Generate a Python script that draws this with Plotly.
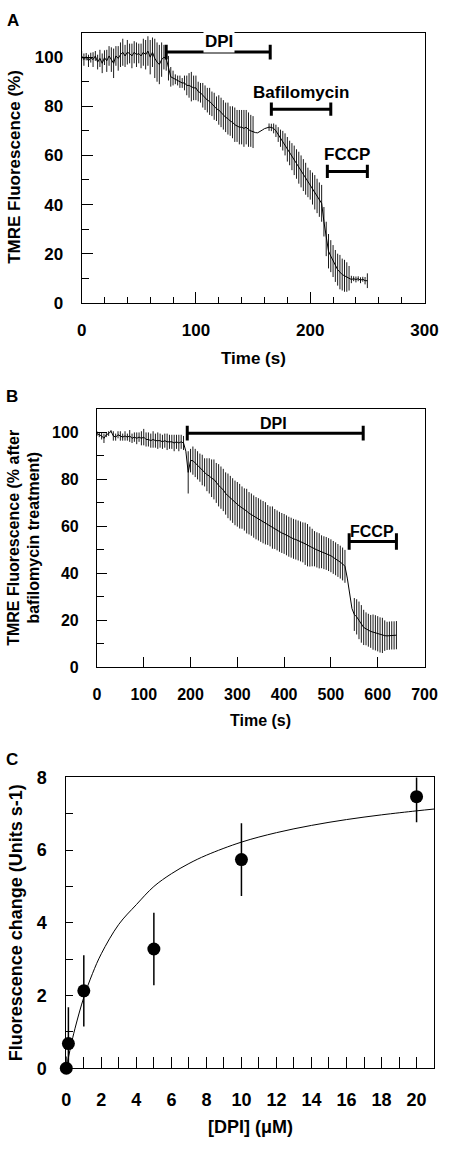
import plotly.graph_objects as go

# ---------------- Panel A data ----------------
a_time = list(range(0, 252, 2))
a_mean = [
    100.5, 99.0, 100.2, 98.5, 99.8, 99.0, 100.5, 98.0, 99.5, 97.5,
    99.8, 98.5, 100.5, 99.0, 97.5, 100.5, 99.5, 101.0, 102.0, 100.5,
    102.0, 101.5, 100.5, 102.0, 101.0, 101.5, 100.5, 102.0, 101.0, 102.5,
    100.0, 102.0, 99.5, 98.0, 97.0, 99.0, 100.0, 99.5, 95.5, 92.0,
    91.5, 91.0, 90.5, 90.0, 89.5, 89.5, 88.5, 88.5, 88.0, 87.5,
    87.5, 86.0, 85.5, 84.5, 83.5, 82.5, 82.0, 81.0, 80.0, 79.0,
    78.5, 77.5, 76.5, 75.5, 75.0, 74.0, 73.5, 72.5, 72.0, 71.5,
    71.5, 71.0, 71.5, 70.5, 70.0, 69.5, 69.3, 69.2, 69.6, 70.3,
    70.9, 71.3, 71.5, 71.4, 71.0, 70.0, 68.5, 67.0, 66.0, 64.5,
    62.5, 61.0, 59.5, 58.0, 56.5, 55.0, 53.5, 52.0, 50.5, 49.0,
    48.0, 46.5, 45.0, 43.5, 42.0, 40.5, 33.0, 26.0, 21.0, 19.0,
    17.0, 15.0, 13.5, 12.5, 11.5, 11.0, 10.5, 10.0, 9.5, 9.8,
    9.5, 9.8, 9.2, 9.6, 9.0, 9.0,
]
a_err = [
    2, 2.5, 1.5, 2.5, 2, 3, 2, 3, 3.5, 4,
    3, 4.5, 4, 5, 6, 4, 5, 5, 5.5, 4.5,
    5, 4, 5, 4.5, 5, 4, 5, 5.5, 6, 6,
    7, 6, 8, 8, 8, 7, 5, 5, 5, 4,
    3, 2, 2, 2.5, 2, 3, 4, 5, 6, 5,
    5, 4, 4, 5, 5, 5, 5.5, 5, 5.5, 5,
    6, 6, 6, 6, 6.5, 6, 6.5, 7, 6.5, 7,
    7, 7.5, 7, 7, 6.5, 6.5, 0, 0, 0, 0,
    0, 0, 1.5, 1.5, 2, 2.5, 3, 3.5, 4, 4.5,
    5, 5, 5.5, 6, 6, 6.5, 6.5, 6.5, 6.5, 6,
    6, 6.5, 7, 7, 7, 7.5, 6, 7, 7, 6.5,
    6.5, 6.5, 6.5, 7, 6.5, 6.5, 6, 5, 1.5, 1,
    1.2, 1, 1.2, 1, 1.5, 3,
]
a_treat_names = ["DPI", "Bafilomycin", "FCCP"]
a_treat_start = [74, 166, 215]
a_treat_end = [165, 218, 250]
a_treat_level = [102.1, 78.8, 53.5]
a_treat_cap = [3.0, 2.7, 2.7]
a_label_x = [120, 192, 232]
a_label_y = [106.3, 85.5, 60.5]

# ---------------- Panel B data ----------------
b_time = list(range(0, 645, 5))
b_mean = [
    99.5, 99.0, 98.5, 97.5, 99.0, 99.5, 100.5, 98.5, 98.0, 99.0,
    98.5, 98.0, 98.5, 98.0, 98.5, 97.5, 98.0, 97.5, 98.0, 97.5,
    98.0, 97.0, 97.0, 96.5, 97.0, 96.5, 96.5, 96.5, 96.0, 96.5,
    96.0, 96.0, 96.0, 95.5, 96.0, 95.5, 96.0, 95.5, 92.0, 83.0,
    88.0, 88.0, 87.0, 86.0, 85.0, 84.0, 83.0, 82.0, 81.5, 80.5,
    80.0, 78.5, 77.5, 76.5, 75.5, 74.0, 73.0, 72.0, 71.0, 70.0,
    69.4, 68.6, 68.0, 67.2, 66.5, 65.6, 65.0, 64.2, 63.5, 63.0,
    62.4, 61.8, 61.3, 60.6, 60.0, 59.5, 58.9, 58.3, 57.7, 57.2,
    56.8, 56.2, 55.6, 55.2, 54.7, 54.4, 54.0, 53.6, 53.2, 52.6,
    52.0, 51.4, 51.0, 50.5, 50.0, 49.6, 49.2, 48.8, 48.5, 48.0,
    47.5, 46.8, 46.2, 45.5, 44.8, 44.0, 43.0, 38.0, 31.0, 25.0,
    22.5, 21.5, 20.0, 18.5, 17.0, 16.4, 15.8, 15.3, 15.0, 14.7,
    14.3, 13.8, 13.6, 13.5, 13.4, 13.5, 13.6, 13.6, 13.7,
]
b_err = [
    1, 1, 1.5, 2, 1, 1, 0.5, 2, 1.5, 1.5,
    2, 1.5, 2, 1.5, 2.5, 2, 2, 2.5, 2, 3,
    3.5, 3, 3, 3, 3.5, 3, 3.5, 3, 3, 3,
    3.5, 3, 3, 3.5, 3, 3.5, 3, 3, 0, 9,
    5, 6, 6, 6, 6, 6.5, 6, 7, 7.5, 8,
    8.5, 8.5, 9, 9, 9, 9, 9.5, 9.5, 9.5, 9.5,
    9.5, 9.5, 9, 9, 9.5, 9, 9, 9, 9, 9,
    9, 9, 9, 8.5, 8.5, 9, 8.5, 8.5, 8.5, 8.5,
    8.5, 8.5, 8.5, 8.5, 8.5, 8.5, 8.5, 8.5, 8.5, 9,
    9, 8.5, 8, 7.5, 7.5, 7.5, 7, 7, 7, 7,
    7, 7, 7, 7, 7, 7, 7, 0, 0, 0,
    7, 7.5, 8, 8, 7.5, 7, 7, 7, 7.5, 7.5,
    7.5, 7.5, 7.5, 6.5, 6, 6, 6, 6, 6,
]
b_treat_names = ["DPI", "FCCP"]
b_treat_start = [193, 539]
b_treat_end = [569, 640]
b_treat_level = [99.7, 53.6]
b_treat_cap = [3.1, 3.5]
b_label_x = [377, 588]
b_label_y = [103.8, 57.9]

# ---------------- Panel C data ----------------
c_dpi = [0, 0.12, 1, 5, 10, 20]
c_rate = [0.0, 0.68, 2.13, 3.28, 5.74, 7.47]
c_err = [0.32, 1.0, 0.98, 1.0, 1.0, 0.7]
c_fit_x = [0, 0.25, 0.5, 1, 1.5, 2, 3, 4, 5, 6, 7, 8, 10, 12, 14, 16, 18, 20, 21]
c_fit_y = [0, 0.59, 1.10, 1.95, 2.61, 3.15, 3.96, 4.50, 5.0, 5.35, 5.63, 5.86,
           6.22, 6.48, 6.68, 6.84, 6.97, 7.08, 7.13]

FONT = "Liberation Sans, Arial, sans-serif"
W, H = 450, 1149


def f(size):
    return dict(family=FONT, size=size, color="black", weight="bold")


fig = go.Figure()

# Panel A series
fig.add_trace(go.Scatter(
    x=a_time, y=a_mean, mode="lines", line=dict(color="black", width=1),
    error_y=dict(type="data", array=a_err, visible=True, thickness=1, width=0, color="#1a1a1a"),
    xaxis="x", yaxis="y", hoverinfo="skip"))
for i in range(len(a_treat_names)):
    fig.add_trace(go.Scatter(
        x=[a_treat_start[i], a_treat_end[i]], y=[a_treat_level[i]] * 2, mode="lines",
        line=dict(color="black", width=3),
        error_y=dict(type="data", array=[a_treat_cap[i]] * 2, visible=True, thickness=3, width=0, color="black"),
        xaxis="x", yaxis="y", cliponaxis=False, hoverinfo="skip"))

# Panel B series
fig.add_trace(go.Scatter(
    x=b_time, y=b_mean, mode="lines", line=dict(color="black", width=1),
    error_y=dict(type="data", array=b_err, visible=True, thickness=1, width=0, color="#1a1a1a"),
    xaxis="x2", yaxis="y2", hoverinfo="skip"))
for i in range(len(b_treat_names)):
    fig.add_trace(go.Scatter(
        x=[b_treat_start[i], b_treat_end[i]], y=[b_treat_level[i]] * 2, mode="lines",
        line=dict(color="black", width=3),
        error_y=dict(type="data", array=[b_treat_cap[i]] * 2, visible=True, thickness=3, width=0, color="black"),
        xaxis="x2", yaxis="y2", cliponaxis=False, hoverinfo="skip"))

# Panel C series
fig.add_trace(go.Scatter(
    x=c_fit_x, y=c_fit_y, mode="lines", line=dict(color="black", width=1, shape="spline"),
    xaxis="x3", yaxis="y3", hoverinfo="skip"))
fig.add_trace(go.Scatter(
    x=c_dpi, y=c_rate, mode="markers", marker=dict(color="black", size=13),
    error_y=dict(type="data", array=c_err, visible=True, thickness=1.5, width=0, color="black"),
    xaxis="x3", yaxis="y3", cliponaxis=False, hoverinfo="skip"))


def px_x(p):
    return p / W


def px_y(p):
    return 1 - p / H


base = dict(showline=True, linecolor="black", linewidth=1, mirror=True, ticks="inside",
            tickcolor="black", tickwidth=1, showgrid=False, zeroline=False, fixedrange=True,
            ticklabeloverflow="allow")

fig.update_layout(
    width=W, height=H, margin=dict(l=0, r=0, t=0, b=0),
    paper_bgcolor="white", plot_bgcolor="white", showlegend=False,
    xaxis=dict(base, domain=[px_x(80), px_x(438)], anchor="y", range=[0, 300], dtick=100, tick0=0,
               ticklen=11, minor=dict(ticks="inside", dtick=20, ticklen=6, tickcolor="black"),
               tickfont=f(17), ticklabelstandoff=12),
    yaxis=dict(base, domain=[px_y(298), px_y(23)], anchor="x", range=[0, 110], dtick=20, tick0=0,
               ticklen=11, minor=dict(ticks="inside", dtick=10, ticklen=7, tickcolor="black"),
               tickfont=f(17), ticklabelstandoff=14),
    xaxis2=dict(base, domain=[px_x(96), px_x(438)], anchor="y2", range=[0, 700], dtick=100, tick0=0,
                ticklen=10, tickfont=f(16), ticklabelstandoff=12),
    yaxis2=dict(base, domain=[px_y(669), px_y(406)], anchor="x2", range=[0, 110], dtick=20, tick0=0,
                ticklen=10, minor=dict(ticks="inside", dtick=10, ticklen=7, tickcolor="black"),
                tickfont=f(16), ticklabelstandoff=14),
    xaxis3=dict(base, domain=[px_x(64), px_x(448)], anchor="y3", range=[0, 21], dtick=2, tick0=0,
                ticklen=11, minor=dict(ticks="inside", dtick=1, ticklen=11, tickcolor="black"),
                tickfont=f(18), ticklabelstandoff=15),
    yaxis3=dict(base, domain=[px_y(1077), px_y(781)], anchor="x3", range=[0, 8], dtick=2, tick0=0,
                ticklen=7, minor=dict(ticks="inside", dtick=1, ticklen=7, tickcolor="black"),
                tickfont=f(18), ticklabelstandoff=15),
)

ann = []
# treatment labels
for i, name in enumerate(a_treat_names):
    ann.append(dict(x=a_label_x[i], y=a_label_y[i], xref="x", yref="y", text=name, showarrow=False,
                    font=f(17), xanchor="center", yanchor="middle",
                    bgcolor="white" if i == 0 else None, borderpad=1))
for i, name in enumerate(b_treat_names):
    ann.append(dict(x=b_label_x[i], y=b_label_y[i], xref="x2", yref="y2", text=name, showarrow=False,
                    font=f(16), xanchor="center", yanchor="middle"))

# panel letters
for letter, (lx, ly) in zip(["A", "B", "C"], [(8, 11), (7, 393), (7, 763)]):
    ann.append(dict(x=px_x(lx), y=px_y(ly), xref="paper", yref="paper", text=letter, showarrow=False,
                    font=f(17), xanchor="center", yanchor="middle"))

# axis titles
titles = [
    ("Time (s)", 259, 355, 0, 17),
    ("[DPI] (μM)", 256, 1137, 0, 18),
    ("Time (s)", 267, 723, 0, 16),
    ("TMRE Fluorescence (%)", 10, 160, -90, 17),
    ("TMRE Fluorescence (% after<br>bafilomycin treatment)", 19, 537, -90, 16),
    ("Fluorescence change (Units s-1)", 11, 929, -90, 18),
]
for text, tx, ty, ang, size in titles:
    ann.append(dict(x=px_x(tx), y=px_y(ty), xref="paper", yref="paper", text=text, showarrow=False,
                    font=f(size), xanchor="center", yanchor="middle", textangle=ang))

fig.update_layout(annotations=ann)

POST = (
    "document.documentElement.style.margin='0';"
    "document.documentElement.style.padding='0';"
    "document.documentElement.style.overflow='hidden';"
    "document.body.style.margin='0';"
    "document.body.style.padding='0';"
    "document.body.style.overflow='hidden';"
    "var gd=document.getElementById('{plot_id}');"
    "gd.style.position='fixed';gd.style.left='0px';gd.style.top='0px';"
)
fig.write_html("out.html", config={"displayModeBar": False}, post_script=POST)
